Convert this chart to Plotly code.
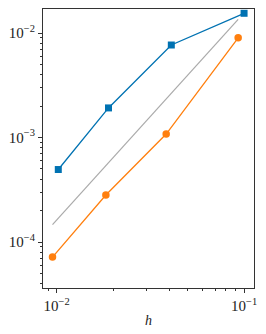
import plotly.graph_objects as go

h_blue = [0.0102, 0.0189, 0.0409, 0.1]
err_blue = [4.94e-4, 1.92e-3, 7.68e-3, 1.545e-2]
h_orange = [0.0095, 0.0183, 0.0384, 0.093]
err_orange = [7.18e-5, 2.82e-4, 1.08e-3, 9.0e-3]
h_ref = [0.0095, 0.093]
err_ref = [1.47e-4, 1.35e-2]

x_major = [0.01, 0.1]
x_major_text = ["10<sup>−2</sup>", "10<sup>−1</sup>"]
y_major = [1e-4, 1e-3, 1e-2]
y_major_text = ["10<sup>−4</sup>", "10<sup>−3</sup>", "10<sup>−2</sup>"]

x_minor = [m * 10 ** e for e in (-3, -2) for m in range(2, 10)]
y_minor = [m * 10 ** e for e in (-5, -4, -3, -2) for m in range(2, 10)]

blue = "#0072B2"
orange = "#FF7F0E"
serif = "Liberation Serif"

fig = go.Figure()
fig.add_trace(go.Scatter(x=h_ref, y=err_ref, mode="lines",
                         line=dict(color="#aaaaaa", width=1.2), showlegend=False))
fig.add_trace(go.Scatter(x=h_blue, y=err_blue, mode="lines+markers",
                         line=dict(color=blue, width=1.3),
                         marker=dict(symbol="square", size=7, color=blue), showlegend=False))
fig.add_trace(go.Scatter(x=h_orange, y=err_orange, mode="lines+markers",
                         line=dict(color=orange, width=1.3),
                         marker=dict(symbol="circle", size=7.5, color=orange), showlegend=False))

axis_common = dict(type="log", showgrid=False, zeroline=False, showline=True,
                   linecolor="#333333", linewidth=1, mirror=True,
                   ticks="outside", ticklen=4, tickwidth=1, tickcolor="#333333",
                   tickfont=dict(family=serif, size=15, color="#222222"))

fig.update_layout(
    width=266, height=334,
    margin=dict(l=43, r=12, t=9, b=46),
    plot_bgcolor="white", paper_bgcolor="white",
    font=dict(family=serif),
    xaxis=dict(**axis_common, range=[-2.073, -0.947],
               tickvals=x_major, ticktext=x_major_text,
               minor=dict(tickvals=x_minor, ticks="outside", ticklen=2, tickwidth=0.8, tickcolor="#333333")),
    yaxis=dict(**axis_common, range=[-4.44, -1.77],
               tickvals=y_major, ticktext=y_major_text,
               minor=dict(tickvals=y_minor, ticks="outside", ticklen=2, tickwidth=0.8, tickcolor="#333333")),
    annotations=[dict(text="<i>h</i>", xref="x domain", yref="y domain", x=0.5, y=0,
                      xanchor="center", yanchor="top", yshift=-23, showarrow=False,
                      font=dict(family=serif, size=14, color="#222222"))],
)

fig.write_html("out.html", config={"displayModeBar": False},
               post_script="document.body.style.margin='0';")
